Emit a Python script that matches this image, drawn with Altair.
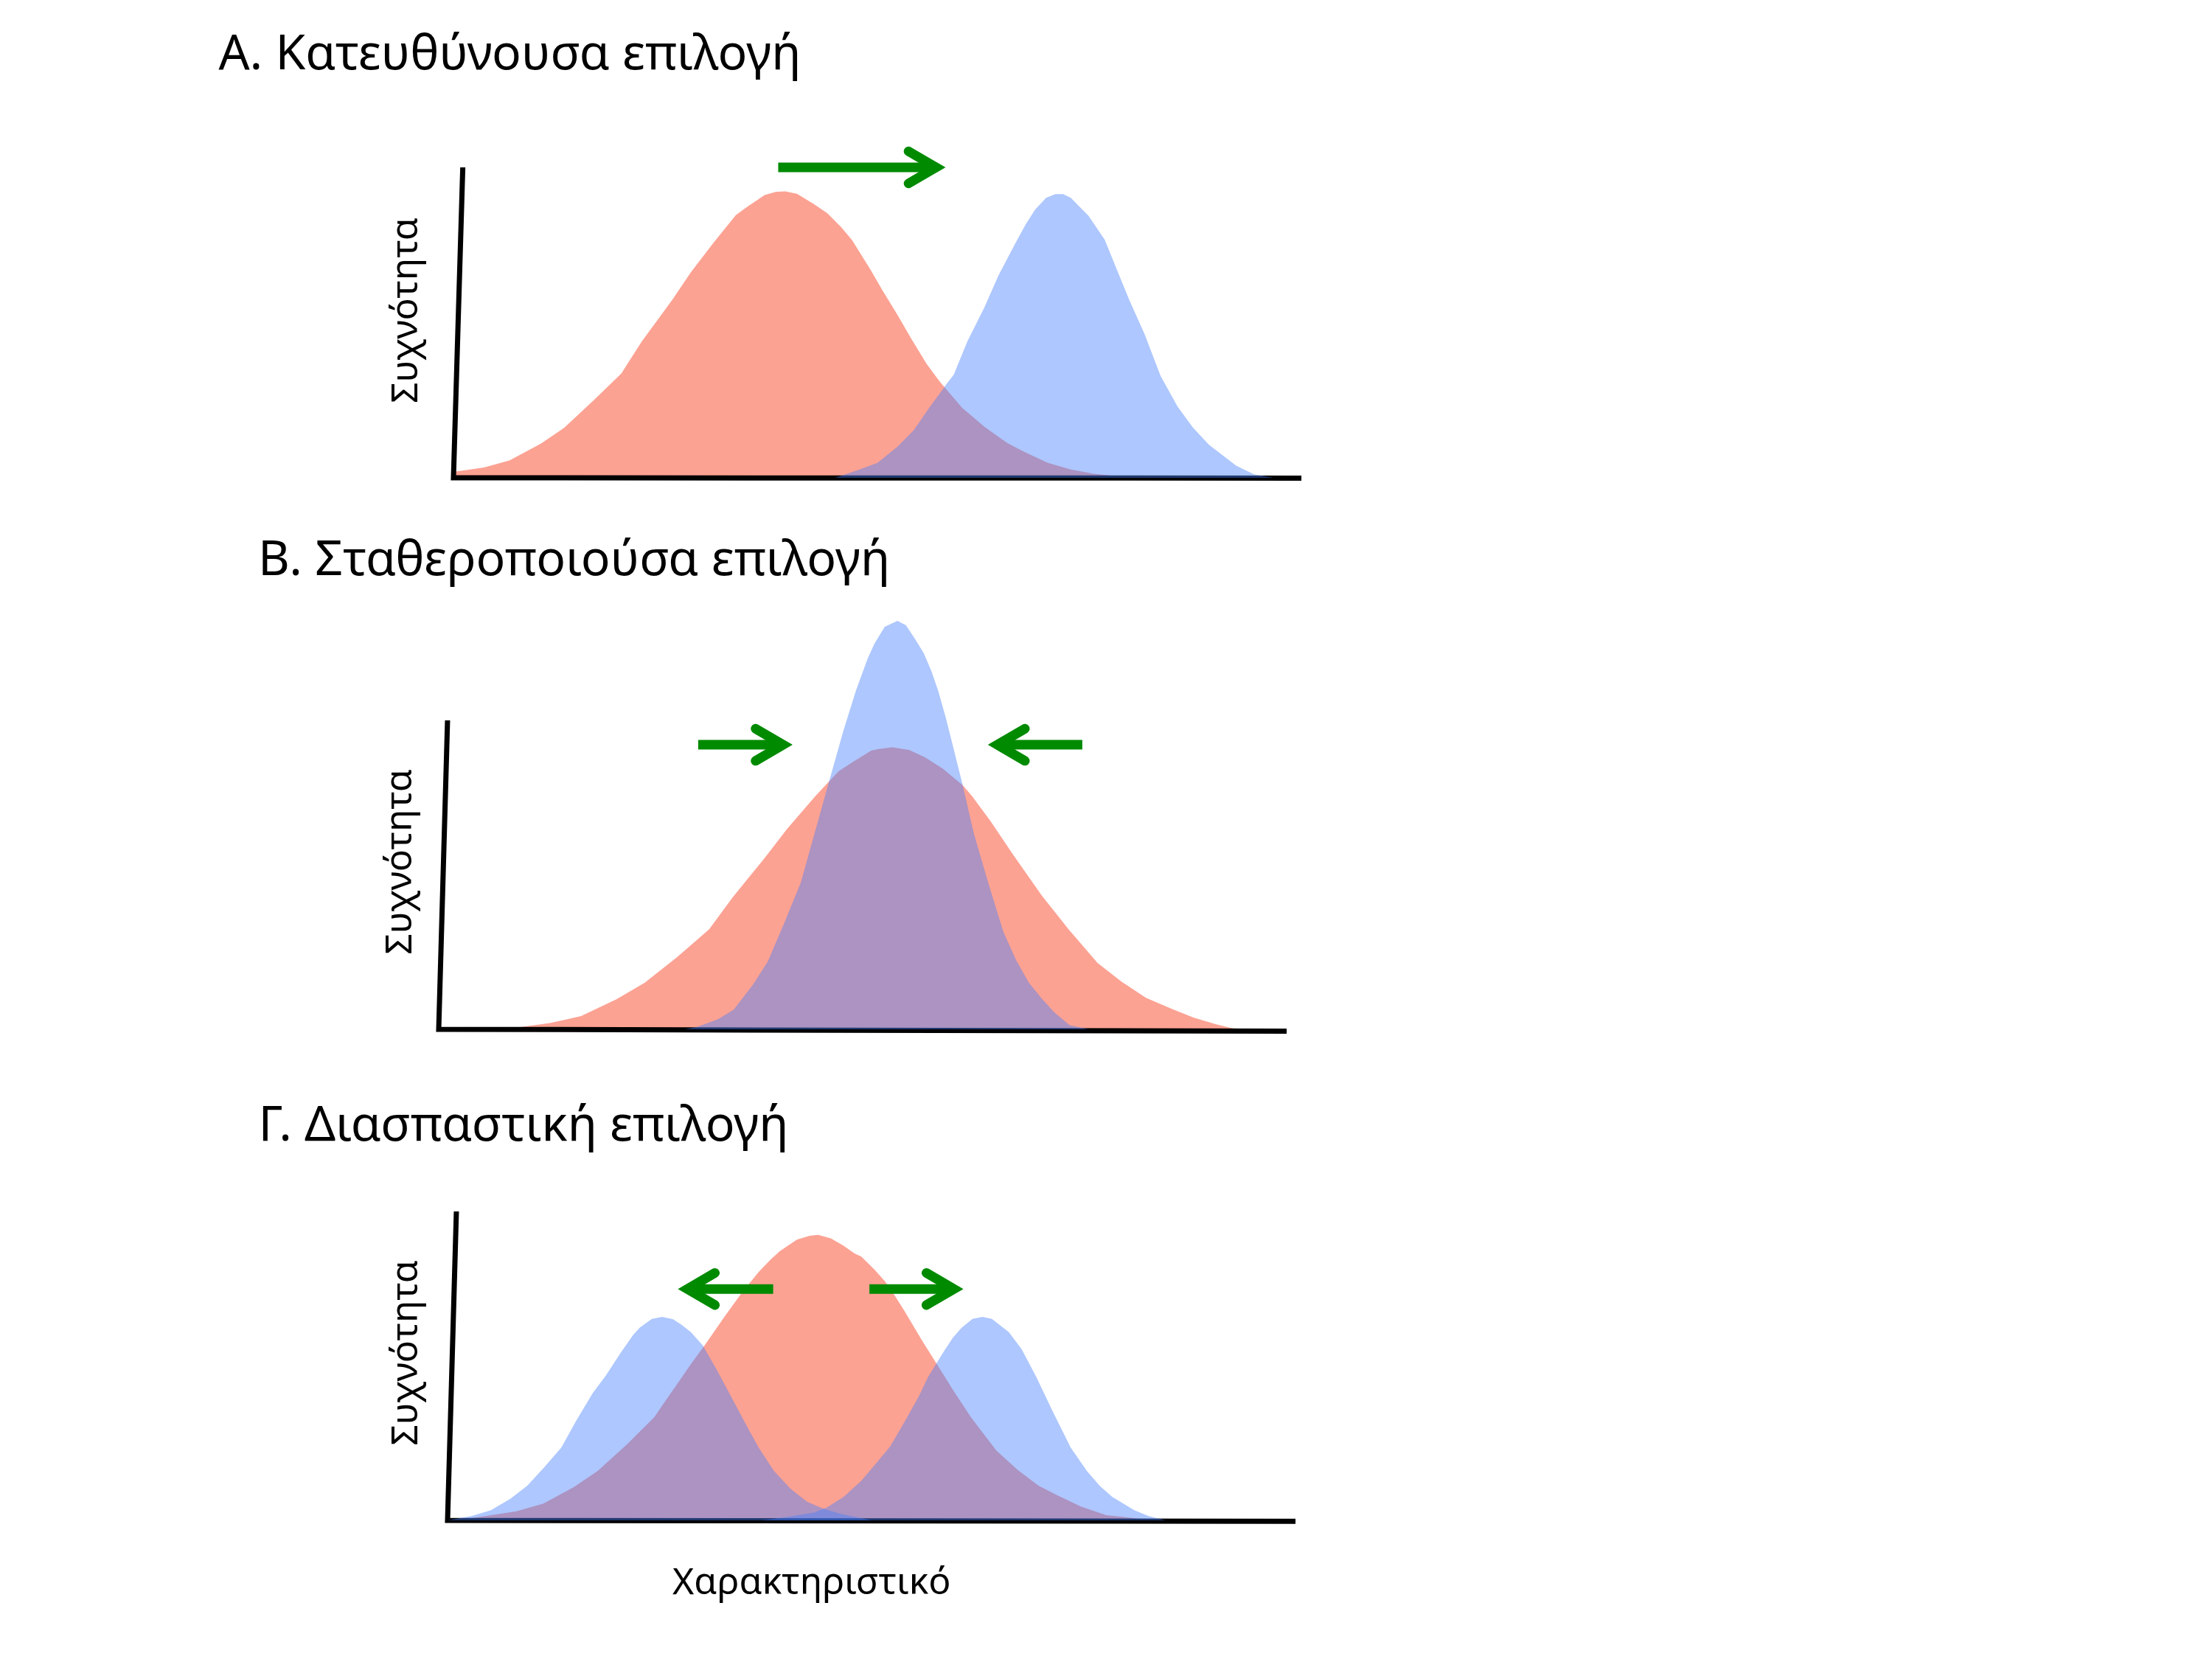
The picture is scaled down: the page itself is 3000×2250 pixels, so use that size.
import altair as alt
import pandas as pd

# ---------------------------------------------------------------------------
# Values (x: trait 0-100 along each x-axis,
# y: frequency, 100 = top of the drawn y-axis)
# ---------------------------------------------------------------------------
TITLES = ["Α. Κατευθύνουσα επιλογή", "Β. Σταθεροποιούσα επιλογή", "Γ. Διασπαστική επιλογή"]
Y_LABEL = "Συχνότητα"
X_LABEL = "Χαρακτηριστικό"

# Panel A – directional selection
A_RED_X = [0, 3.6, 6.6, 10.3, 13.1, 16.5, 19.8, 22.2, 25.8, 28.0, 30.6, 33.3, 34.7, 36.7, 38.0, 39.1, 40.5,
           42.5, 44.1, 45.7, 47.0, 49.2, 50.5, 52.4, 54.0, 55.8, 57.4, 60.0, 62.7, 65.3, 67.3, 70.1, 72.8, 75.5, 80.0]
A_RED_Y = [1.9, 3.3, 5.6, 11.0, 16.2, 24.9, 33.6, 43.9, 57.3, 66.2, 75.5, 84.6, 87.4, 91.1, 92.1, 92.3, 91.5,
           88.2, 85.2, 80.8, 76.6, 67.0, 60.8, 52.3, 44.8, 36.7, 30.8, 22.5, 16.3, 11.2, 8.4, 4.8, 2.7, 1.3, 0]
A_BLUE_X = [45.0, 47.9, 50.0, 52.4, 54.3, 56.2, 58.2, 59.0, 60.6, 62.6, 64.3, 66.3, 67.5, 68.6, 69.9, 71.0, 71.9,
            72.8, 74.9, 76.8, 78.1, 79.7, 81.5, 83.4, 85.4, 87.2, 89.1, 92.3, 94.4, 96.7]
A_BLUE_Y = [0, 2.7, 4.8, 10.1, 15.4, 22.9, 30.4, 33.2, 43.9, 54.8, 65.3, 75.7, 81.7, 86.4, 90.2, 91.4, 91.4,
            90.2, 84.4, 76.7, 68.0, 57.3, 46.3, 32.8, 22.9, 16.2, 10.6, 3.9, 1.1, 0]

# Panel B – stabilising selection
B_RED_X = [5.0, 9.6, 13.1, 16.8, 21.0, 24.3, 28.1, 31.9, 34.6, 38.4, 41.1, 44.4, 46.1, 47.2, 48.7, 51.0, 51.8,
           53.5, 55.5, 57.3, 59.4, 61.8, 62.9, 65.1, 67.6, 71.1, 74.4, 77.7, 80.6, 83.4, 86.4, 89.0, 91.7, 93.4, 94.5]
B_RED_Y = [0, 0.7, 2.0, 4.3, 9.8, 15.1, 23.3, 32.4, 42.5, 55.3, 64.9, 75.4, 80.4, 83.6, 86.3, 90.2, 90.7,
           91.3, 90.4, 88.1, 84.5, 79.0, 75.5, 67.3, 57.1, 43.4, 32.0, 21.5, 15.3, 10.2, 6.7, 3.8, 1.6, 0.5, 0]
B_BLUE_X = [29.0, 30.4, 32.9, 34.8, 37.1, 38.8, 40.8, 42.7, 44.1, 46.2, 47.7, 49.2, 50.6, 51.4, 52.6, 54.1, 55.1,
            56.1, 57.2, 58.1, 58.9, 59.8, 60.8, 61.8, 63.1, 64.8, 66.6, 68.1, 69.6, 71.1, 72.6, 74.4, 76.6]
B_BLUE_Y = [0, 0.7, 3.2, 6.4, 14.6, 21.9, 34.7, 47.5, 61.2, 81.8, 96.4, 109.6, 120.1, 124.9, 130.3, 132.2, 130.8,
            126.7, 121.8, 116.0, 109.6, 100.9, 90.0, 79.0, 63.5, 47.5, 31.5, 22.4, 15.1, 10.0, 5.5, 1.4, 0]

# Panel C – disruptive selection
C_RED_X = [1.1, 8.1, 11.3, 14.9, 17.7, 21.2, 24.4, 25.7, 27.1, 28.7, 30.4, 32.6, 34.7, 36.7, 38.1, 39.2, 41.2,
           42.7, 43.7, 45.2, 46.7, 48.0, 48.8, 50.4, 51.6, 52.8, 53.9, 55.9, 57.7, 59.7, 61.7, 64.7, 67.2, 69.7,
           72.0, 74.7, 77.7, 80.4, 83.0]
C_RED_Y = [0, 2.9, 5.4, 10.8, 16.0, 24.7, 33.5, 38.7, 44.2, 50.6, 57.0, 65.7, 73.7, 80.4, 84.4, 87.2, 90.9,
           92.1, 92.4, 91.3, 88.9, 86.4, 85.4, 81.0, 77.3, 72.5, 67.7, 58.5, 50.6, 41.8, 33.5, 22.7, 16.4, 11.2,
           8.0, 4.5, 1.7, 0.9, 0]
C_BLUE1_X = [0, 2.8, 5.1, 7.4, 9.4, 11.4, 13.4, 15.1, 17.1, 18.7, 20.4, 21.9, 22.7, 24.1, 25.3, 26.6, 27.6,
             28.7, 30.1, 31.7, 33.4, 35.1, 36.7, 38.5, 40.4, 42.4, 44.4, 46.4, 50.0]
C_BLUE1_Y = [0, 1.4, 3.3, 7.0, 11.2, 17.2, 23.5, 31.9, 41.1, 47.0, 54.2, 60.1, 62.5, 65.2, 65.9, 65.1, 63.3,
             60.9, 56.6, 49.0, 40.3, 31.5, 23.5, 16.0, 10.4, 6.0, 3.7, 2.1, 0]
C_BLUE2_X = [37.0, 40.0, 43.2, 44.7, 46.7, 48.8, 50.4, 52.2, 53.9, 55.6, 56.7, 57.7, 58.6, 59.6, 60.6, 61.9, 63.1,
             64.2, 66.2, 67.7, 69.4, 71.4, 73.5, 75.4, 76.9, 78.4, 81.0, 82.7, 84.7]
C_BLUE2_Y = [0, 1.1, 2.5, 4.1, 7.6, 12.8, 18.0, 23.9, 31.9, 40.3, 46.6, 51.0, 55.0, 59.1, 62.3, 65.2, 65.9,
             65.2, 60.9, 55.4, 46.6, 35.1, 23.5, 16.0, 11.2, 7.6, 3.3, 1.4, 0]

# Selection arrows (tail x, visible tip x, y) in panel units
A_ARROW_TAIL = [38.3]
A_ARROW_TIP = [58.0]
A_ARROW_Y = [100.0]
B_ARROW_TAIL = [30.6, 75.9]
B_ARROW_TIP = [41.7, 64.8]
B_ARROW_Y = [92.1, 92.1]
C_ARROW_TAIL = [38.4, 49.75]
C_ARROW_TIP = [27.2, 60.8]
C_ARROW_Y = [74.9, 74.9]

# ---------------------------------------------------------------------------
# Layout / style
# ---------------------------------------------------------------------------
PAGE_MARGIN = 8
W, H = 3000 - 2 * PAGE_MARGIN, 2250 - 2 * PAGE_MARGIN
FONT = "Noto Sans"
GREEN = "#008A00"
RED = "#FCA293"
BLUE = "#4680FD"
BLUE_ALPHA = 0.44
TITLE_SIZE = 66
LABEL_SIZE = 50
AXIS_W = 7
ARROW_W = 13
TIP_INSET_PX = 12.5
HEAD = 0.584
HEAD_SIZE = 74.5 ** 2
PATH_R = f"M -1 -{HEAD} L 0 0 L -1 {HEAD}"
PATH_L = f"M 1 -{HEAD} L 0 0 L 1 {HEAD}"

# page-pixel frame of each panel: x of data 0 / 100, y of data 0 / 100
FRAMES = {
    "A": dict(x0=615, x1=1765, y0=648, y1=227),
    "B": dict(x0=595, x1=1745, y0=1396, y1=977),
    "C": dict(x0=607, x1=1757, y0=2062, y1=1643),
}


def curves_df(pairs):
    rows = []
    for g, (xs, ys) in enumerate(pairs):
        for x, y in zip(xs, ys):
            rows.append({"x": x, "y": y, "g": g})
    return pd.DataFrame(rows)


def make_panel(key, reds, blues, arrows, title, title_xy, ylab_xy, axis_top_x, axis_end_y, xlabel_xy=None):
    f = FRAMES[key]
    ppu = (f["x1"] - f["x0"]) / 100.0
    xs = alt.Scale(domain=[0, 100], range=[f["x0"] - PAGE_MARGIN, f["x1"] - PAGE_MARGIN], nice=False, zero=False)
    ys = alt.Scale(domain=[0, 100], range=[f["y0"] - PAGE_MARGIN, f["y1"] - PAGE_MARGIN], nice=False, zero=False)

    def X(field="x"):
        return alt.X(f"{field}:Q", scale=xs, axis=None)

    def Y(field="y"):
        return alt.Y(f"{field}:Q", scale=ys, axis=None, stack=None)

    red = alt.Chart(curves_df(reds)).mark_area(color=RED, opacity=1).encode(
        x=X(), y=Y(), y2=alt.datum(0), detail="g:N")
    blue = alt.Chart(curves_df(blues)).mark_area(color=BLUE, opacity=BLUE_ALPHA).encode(
        x=X(), y=Y(), y2=alt.datum(0), detail="g:N")

    axis_df = pd.DataFrame({"x": [axis_top_x, 0, 100], "y": [100, 0, axis_end_y], "o": [0, 1, 2]})
    axes = alt.Chart(axis_df).mark_line(color="black", strokeWidth=AXIS_W, strokeJoin="miter",
                                        strokeCap="butt").encode(x=X(), y=Y(), order="o:Q")

    tails, tips, ys_ = arrows
    rows = []
    for t, p, yy in zip(tails, tips, ys_):
        d = 1 if p > t else -1
        tipc = p - d * TIP_INSET_PX / ppu
        rows.append({"tail": t, "tipc": tipc, "send": tipc - d * 3 / ppu, "y": yy, "dir": "r" if d > 0 else "l"})
    adf = pd.DataFrame(rows)
    shafts = alt.Chart(adf).mark_rule(color=GREEN, strokeWidth=ARROW_W, strokeCap="butt").encode(
        x=X("tail"), x2="send:Q", y=Y())
    heads = alt.Chart(adf).mark_point(filled=False, stroke=GREEN, strokeWidth=ARROW_W, strokeCap="round",
                                      strokeJoin="miter", size=HEAD_SIZE, opacity=1).encode(
        x=X("tipc"), y=Y(),
        shape=alt.Shape("dir:N", scale=alt.Scale(domain=["r", "l"], range=[PATH_R, PATH_L]), legend=None))

    tdf = pd.DataFrame({"x": [title_xy[0]], "y": [title_xy[1]], "t": [title]})
    ttl = alt.Chart(tdf).mark_text(align="left", baseline="alphabetic", font=FONT, fontSize=TITLE_SIZE,
                                   color="black").encode(x=X(), y=Y(), text="t:N")
    ldf = pd.DataFrame({"x": [ylab_xy[0]], "y": [ylab_xy[1]], "t": [Y_LABEL]})
    ylab = alt.Chart(ldf).mark_text(align="center", baseline="alphabetic", angle=270, font=FONT,
                                    fontSize=LABEL_SIZE, color="black").encode(x=X(), y=Y(), text="t:N")
    layers = [red, axes, blue, shafts, heads, ttl, ylab]
    if xlabel_xy is not None:
        xdf = pd.DataFrame({"x": [xlabel_xy[0]], "y": [xlabel_xy[1]], "t": [X_LABEL]})
        layers.append(alt.Chart(xdf).mark_text(align="center", baseline="alphabetic", font=FONT,
                                               fontSize=LABEL_SIZE, color="black").encode(
            x=X(), y=Y(), text="t:N"))
    return alt.layer(*layers)


pA = make_panel("A", [(A_RED_X, A_RED_Y)], [(A_BLUE_X, A_BLUE_Y)],
                (A_ARROW_TAIL, A_ARROW_TIP, A_ARROW_Y), TITLES[0], (-27.7, 131.6), (-4.26, 53.9), 1.1, -0.1)
pB = make_panel("B", [(B_RED_X, B_RED_Y)], [(B_BLUE_X, B_BLUE_Y)],
                (B_ARROW_TAIL, B_ARROW_TIP, B_ARROW_Y), TITLES[1], (-21.3, 147.0), (-3.2, 54.2), 1.04, -0.6)
pC = make_panel("C", [(C_RED_X, C_RED_Y)], [(C_BLUE1_X, C_BLUE1_Y), (C_BLUE2_X, C_BLUE2_Y)],
                (C_ARROW_TAIL, C_ARROW_TIP, C_ARROW_Y), TITLES[2], (-22.3, 123.0), (-3.57, 54.2), 1.04, -0.3,
                xlabel_xy=(42.94, -23.8))

chart = alt.layer(pA, pB, pC).resolve_scale(x="independent", y="independent").properties(
    width=W, height=H, padding=0, background="white",
    autosize=alt.AutoSizeParams(type="none"),
).configure_view(stroke=None)

chart.save("out.html", embed_options={"renderer": "svg", "actions": False})
